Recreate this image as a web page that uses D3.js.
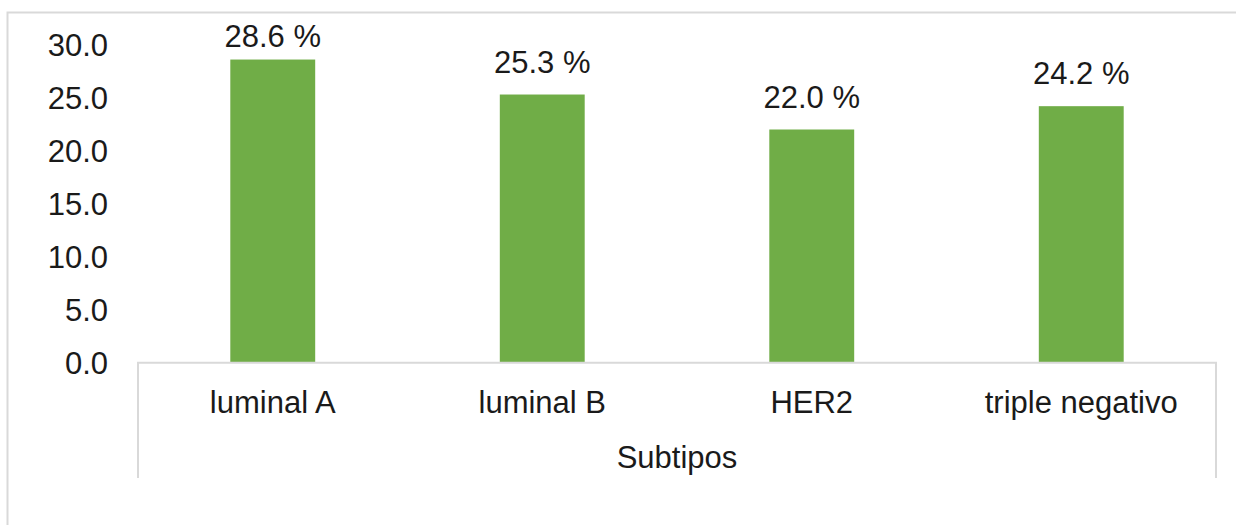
<!DOCTYPE html>
<html>
<head>
<meta charset="utf-8">
<script src="https://cdn.jsdelivr.net/npm/d3@7"></script>
<style>
  body { margin: 0; background: #fff; }
  text { font-family: Arial, "Liberation Sans", sans-serif; fill: #1a1a1a; }
</style>
</head>
<body>
<div id="chart"></div>
<script>
/* chart data */
const categories = ["luminal A", "luminal B", "HER2", "triple negativo"];
const values = [28.6, 25.3, 22.0, 24.2];
const yTicks = [0, 5, 10, 15, 20, 25, 30];
const axisTitle = "Subtipos";

/* dimensions */
const width = 1236, height = 525;
const plot = {left: 138, right: 1216, top: 44.7, bottom: 362.7};
const fontSize = 31;
const lineColor = "#d9d9d9";

const svg = d3.select("#chart")
  .append("svg")
  .attr("width", width)
  .attr("height", height);

/* outer chart border (only top and left fall inside the picture) */
svg.append("rect")
  .attr("x", 7.5)
  .attr("y", 12.5)
  .attr("width", width + 20)
  .attr("height", height + 20)
  .attr("fill", "none")
  .attr("stroke", lineColor)
  .attr("stroke-width", 2);

/* scales */
const xScale = d3.scaleBand()
  .domain(categories)
  .range([plot.left, plot.right])
  .paddingInner(0.685)
  .paddingOuter(0.3425);

const yScale = d3.scaleLinear()
  .domain([0, 30])
  .range([plot.bottom, plot.top]);

/* y axis labels, no line */
const yAxis = d3.axisLeft(yScale)
  .tickValues(yTicks)
  .tickFormat(d3.format(".1f"))
  .tickSize(0)
  .tickPadding(0);

const yG = svg.append("g")
  .attr("transform", "translate(108,0)")
  .call(yAxis);
yG.select(".domain").remove();
yG.selectAll("text")
  .attr("font-size", fontSize)
  .attr("font-family", null)
  .attr("dy", "0.36em");

/* bars */
svg.selectAll(".bar")
  .data(values)
  .join("rect")
  .attr("class", "bar")
  .attr("x", (d, i) => xScale(categories[i]))
  .attr("y", d => yScale(d))
  .attr("width", xScale.bandwidth())
  .attr("height", d => yScale(0) - yScale(d))
  .attr("fill", "#70ad47");

/* value labels, kept inside the chart top like Excel does */
svg.selectAll(".valueLabel")
  .data(values)
  .join("text")
  .attr("class", "valueLabel")
  .attr("x", (d, i) => xScale(categories[i]) + xScale.bandwidth() / 2)
  .attr("y", d => Math.max(yScale(d) - 22, 47))
  .attr("text-anchor", "middle")
  .attr("font-size", fontSize)
  .text(d => d.toFixed(1) + " %");

/* category axis: line plus boundary lines at both ends */
const tableBottom = 478;
svg.append("path")
  .attr("d", `M${plot.left},${tableBottom}V${plot.bottom}H${plot.right}V${tableBottom}`)
  .attr("fill", "none")
  .attr("stroke", lineColor)
  .attr("stroke-width", 2);

svg.selectAll(".catLabel")
  .data(categories)
  .join("text")
  .attr("class", "catLabel")
  .attr("x", d => xScale(d) + xScale.bandwidth() / 2)
  .attr("y", 412.5)
  .attr("text-anchor", "middle")
  .attr("font-size", fontSize)
  .text(d => d);

/* axis title */
svg.append("text")
  .attr("x", (plot.left + plot.right) / 2)
  .attr("y", 468)
  .attr("text-anchor", "middle")
  .attr("font-size", fontSize)
  .text(axisTitle);
</script>
</body>
</html>
